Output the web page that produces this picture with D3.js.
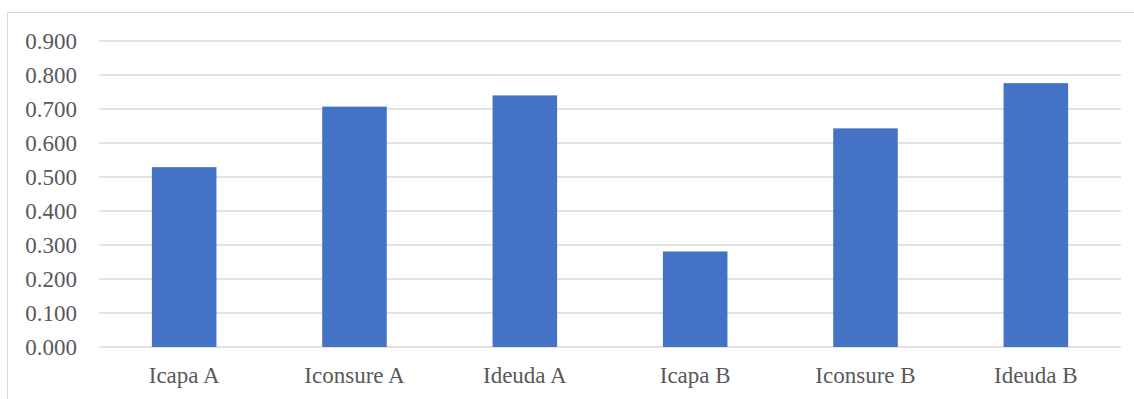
<!DOCTYPE html>
<html>
<head>
<meta charset="utf-8">
<script src="https://cdn.jsdelivr.net/npm/d3@7"></script>
<style>
  html, body { margin: 0; padding: 0; background: #fff; }
  svg { display: block; }
</style>
</head>
<body>
<svg id="chart" width="1134" height="399"></svg>
<script>
const categories = ["Icapa A", "Iconsure A", "Ideuda A", "Icapa B", "Iconsure B", "Ideuda B"];
const values = [0.529, 0.707, 0.740, 0.281, 0.643, 0.776];
const yTicks = [0, 0.1, 0.2, 0.3, 0.4, 0.5, 0.6, 0.7, 0.8, 0.9];

(function () {
const svg = d3.select("#chart");
const plotLeft = 99, plotRight = 1121, plotTop = 41, plotBottom = 347;

// outer frame
svg.append("rect")
  .attr("x", 7.5).attr("y", 12.5)
  .attr("width", 1140).attr("height", 400)
  .attr("fill", "none").attr("stroke", "#d9d9d9").attr("stroke-width", 1);

const x = d3.scaleBand().domain(categories).range([plotLeft, plotRight]).paddingInner(0.621).paddingOuter(0.3105);
const y = d3.scaleLinear().domain([0, 0.9]).range([plotBottom, plotTop]);

// gridlines
svg.append("g").selectAll("line").data(yTicks).join("line")
  .attr("x1", plotLeft).attr("x2", plotRight)
  .attr("y1", d => y(d)).attr("y2", d => y(d))
  .attr("stroke", "#d9d9d9").attr("stroke-width", 1.6);

// bars
svg.append("g").selectAll("rect").data(values).join("rect")
  .attr("x", (d, i) => x(categories[i]))
  .attr("width", x.bandwidth())
  .attr("y", d => y(d))
  .attr("height", d => y(0) - y(d))
  .attr("fill", "#4472c4");

// y axis labels
const yAxis = d3.axisLeft(y).tickValues(yTicks).tickFormat(d3.format(".3f")).tickSize(0).tickPadding(0);
const gy = svg.append("g").attr("transform", "translate(77,0)").call(yAxis);
gy.select(".domain").remove();
gy.selectAll("text")
  .attr("font-family", "'Liberation Serif', 'Times New Roman', serif")
  .attr("font-size", 23).attr("fill", "#595959")
  .attr("dy", "0.34em");

// x axis labels
const xAxis = d3.axisBottom(x).tickSize(0).tickPadding(0);
const gx = svg.append("g").attr("transform", "translate(0," + plotBottom + ")").call(xAxis);
gx.select(".domain").remove();
gx.selectAll("text")
  .attr("font-family", "'Liberation Serif', 'Times New Roman', serif")
  .attr("font-size", 23).attr("fill", "#595959")
  .attr("dy", null).attr("y", 36);
})();
</script>
</body>
</html>
